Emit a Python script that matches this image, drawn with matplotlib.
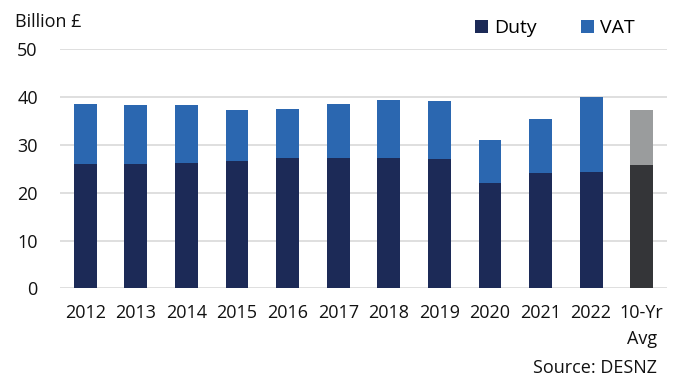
import matplotlib.pyplot as plt
import numpy as np

plt.rcParams['font.family'] = ['Open Sans', 'DejaVu Sans']

# values (billion £)
years = ["2012", "2013", "2014", "2015", "2016", "2017",
         "2018", "2019", "2020", "2021", "2022"]
duty = [25.9, 25.9, 26.3, 26.6, 27.2, 27.2, 27.2, 27.0, 22.0, 24.1, 24.3]
total = [38.6, 38.4, 38.3, 37.2, 37.6, 38.5, 39.3, 39.2, 31.0, 35.4, 40.1]
vat = [t - d for t, d in zip(total, duty)]

avg_label = "10-Yr\nAvg"
avg_duty = 25.8
avg_total = 37.4
avg_vat = avg_total - avg_duty

fig = plt.figure(figsize=(6.73, 3.86), dpi=100)
ax = fig.add_axes([60 / 673, 1 - 288.3 / 386, 607 / 673, (288.3 - 49.3) / 386])

x = np.arange(len(years))
w = 0.45
ax.bar(x, duty, w, color="#1c2a57", label="Duty", zorder=3)
ax.bar(x, vat, w, bottom=duty, color="#2b67b0", label="VAT", zorder=3)

xa = len(years)
ax.bar(xa, avg_duty, w, color="#343538", zorder=3)
ax.bar(xa, avg_vat, w, bottom=avg_duty, color="#9a9c9d", zorder=3)

ax.set_xlim(-0.5, len(years) + 0.5)
ax.set_ylim(0, 50)
ax.set_yticks([0, 10, 20, 30, 40, 50])
ax.set_xticks(list(x) + [xa])
ax.set_xticklabels(years + [avg_label], linespacing=1.6)
ax.yaxis.grid(True, color="#d9d9d9", linewidth=1.2, zorder=0)
ax.tick_params(axis="both", length=0, labelsize=13, colors="#111111")
ax.tick_params(axis="x", pad=11)
ax.tick_params(axis="y", pad=16)
for s in ax.spines.values():
    s.set_visible(False)

fig.text(15 / 673, 1 - 22 / 386, "Billion £", fontsize=13, va="center", ha="left", color="#111111")
fig.text(657 / 673, 1 - 368 / 386, "Source: DESNZ", fontsize=13, va="center", ha="right", color="#111111")

ax.legend(ncol=2, frameon=False, fontsize=14, loc="center", bbox_to_anchor=(555 / 673, 1 - 28 / 386),
          bbox_transform=fig.transFigure, handlelength=0.65, handleheight=0.65,
          handletextpad=0.3, columnspacing=2.3)

fig.savefig("out.png", dpi=100)
